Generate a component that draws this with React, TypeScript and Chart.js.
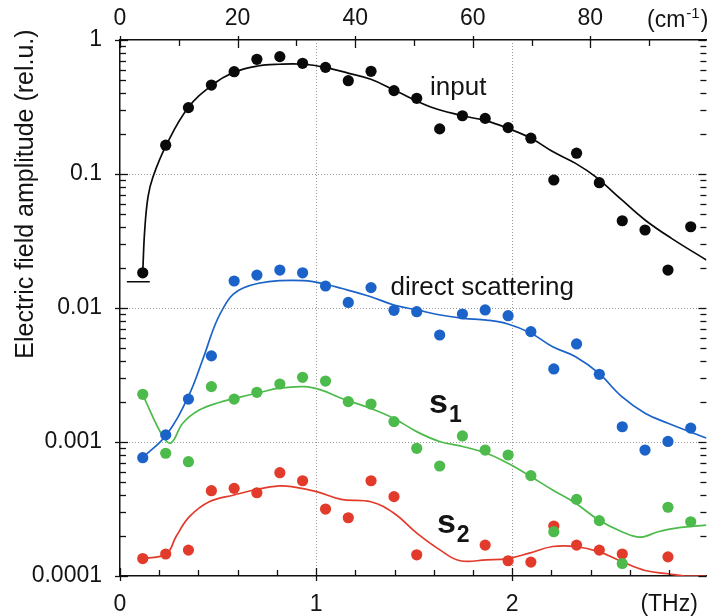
import React, { useEffect, useRef } from "react";
import { Chart, registerables } from "chart.js";

Chart.register(...registerables);

// ---------------- data ----------------
const THZ_TO_CM = 33.356;
const X_MAX = 2.99;

const freqTHz = [0.116, 0.233, 0.349, 0.466, 0.582, 0.698, 0.815, 0.931, 1.048, 1.164, 1.28, 1.397, 1.513, 1.63, 1.746, 1.862, 1.979, 2.095, 2.212, 2.328, 2.444, 2.561, 2.677, 2.794, 2.91];

const inputAmp = [0.0183, 0.164, 0.313, 0.461, 0.58, 0.718, 0.751, 0.67, 0.625, 0.497, 0.584, 0.419, 0.367, 0.217, 0.272, 0.26, 0.222, 0.185, 0.0902, 0.143, 0.0861, 0.0448, 0.0382, 0.0192, 0.0404];
const directAmp = [0.000764, 0.00113, 0.00209, 0.00439, 0.0159, 0.0176, 0.0192, 0.0183, 0.0146, 0.011, 0.0142, 0.00961, 0.00938, 0.00629, 0.00902, 0.00967, 0.00876, 0.00666, 0.00351, 0.00539, 0.0032, 0.0013, 0.000871, 0.00101, 0.00127];
const s1Amp = [0.00227, 0.000824, 0.000713, 0.00259, 0.00209, 0.00235, 0.00271, 0.00304, 0.00285, 0.002, 0.00192, 0.00142, 0.000897, 0.000662, 0.00111, 0.000871, 0.0008, 0.000561, 0.000214, 0.000373, 0.000259, 0.000124, null, 0.000326, 0.000254];
const s2Amp = [0.000135, 0.000146, 0.000156, 0.000433, 0.000451, 0.000418, 0.00059, 0.000514, 0.000316, 0.000272, 0.000514, 0.000391, 0.000144, null, null, 0.00017, 0.00013, 0.000127, 0.000236, 0.00017, 0.000156, 0.000146, null, 0.000139, null];

const inputFitX = [0.116, 0.126, 0.143, 0.168, 0.236, 0.348, 0.47, 0.581, 0.702, 0.813, 0.938, 1.045, 1.167, 1.279, 1.397, 1.581, 1.746, 1.864, 1.978, 2.096, 2.206, 2.323, 2.424, 2.559, 2.677, 2.812, 2.99];
const inputFitY = [0.0186, 0.038, 0.0677, 0.095, 0.164, 0.313, 0.461, 0.574, 0.64, 0.659, 0.659, 0.625, 0.564, 0.509, 0.424, 0.318, 0.272, 0.25, 0.219, 0.185, 0.147, 0.12, 0.0955, 0.064, 0.0454, 0.0331, 0.0228];

const directFitX = [0.115, 0.236, 0.348, 0.421, 0.488, 0.545, 0.578, 0.628, 0.707, 0.813, 0.938, 1.027, 1.128, 1.279, 1.397, 1.515, 1.633, 1.751, 1.869, 1.978, 2.096, 2.206, 2.323, 2.441, 2.559, 2.677, 2.794, 2.99];
const directFitY = [0.000764, 0.00113, 0.00218, 0.00409, 0.00769, 0.0111, 0.0127, 0.0141, 0.01529, 0.016, 0.016, 0.01529, 0.01403, 0.01214, 0.01052, 0.00967, 0.00887, 0.00838, 0.00813, 0.0076, 0.00648, 0.00514, 0.00433, 0.00326, 0.00218, 0.00164, 0.00138, 0.00107];

const s1FitX = [0.115, 0.219, 0.261, 0.32, 0.404, 0.505, 0.623, 0.707, 0.813, 0.938, 1.027, 1.128, 1.279, 1.397, 1.515, 1.633, 1.751, 1.869, 1.978, 2.096, 2.206, 2.323, 2.441, 2.559, 2.652, 2.744, 2.828, 2.99];
const s1FitY = [0.00227, 0.001096, 0.000988, 0.00138, 0.00173, 0.00197, 0.00218, 0.00233, 0.00252, 0.00259, 0.00244, 0.00212, 0.00178, 0.0015, 0.00119, 0.001005, 0.000922, 0.000824, 0.000693, 0.000551, 0.000438, 0.000349, 0.000262, 0.000214, 0.000195, 0.000214, 0.000227, 0.00024];

const s2FitX = [0.115, 0.236, 0.286, 0.354, 0.455, 0.581, 0.702, 0.813, 0.875, 1.002, 1.128, 1.279, 1.397, 1.515, 1.633, 1.734, 1.869, 1.978, 2.087, 2.206, 2.323, 2.441, 2.559, 2.677, 2.794, 2.879, 2.99];
const s2FitY = [0.000135, 0.000146, 0.000197, 0.000277, 0.000358, 0.000402, 0.000444, 0.00047, 0.000464, 0.000426, 0.000373, 0.000358, 0.000294, 0.000208, 0.000156, 0.00013, 0.000132, 0.000135, 0.000148, 0.000166, 0.000166, 0.000152, 0.000128, 0.00011, 0.000104, 0.0001, 0.0001];

const floorX = [0.035, 0.152];
const floorY = [0.0157, 0.0157];

const yDecades = [1, 0.1, 0.01, 0.001, 0.0001];
const yDecadeLabels = ["1", "0.1", "0.01", "0.001", "0.0001"];
const xMajorValues = [0, 1, 2];
const xMajorLabels = ["0", "1", "2"];
const xUnitAt = 2.8;
const xUnitLabel = "(THz)";
const cmMajorValues = [0, 20, 40, 60, 80];
const cmMajorLabels = ["0", "20", "40", "60", "80"];

const annotTexts = ["input", "direct scattering"];
const annotX = [1.581, 1.379];
const annotY = [0.389, 0.0125];
const subNames = ["s", "s"];
const subIndex = ["1", "2"];
const subX = [1.576, 1.616];
const subY = [0.00164, 0.000209];

const yTitle = "Electric field amplitude (rel.u.)";

// ---------------- style ----------------
const FONT = "'Liberation Sans', Arial, Helvetica, sans-serif";
const TEXT = "#141414";
const AXIS = "#111111";
const BLACK = "#0a0a0a";
const BLUE = "#1c63c9";
const GREEN = "#4dbb4b";
const RED = "#e23b2c";

const near = (a: number, b: number) => Math.abs(a - b) < 1e-6;
const isDecade = (v: number) => {
  const l = Math.log10(v);
  return Math.abs(l - Math.round(l)) < 1e-6;
};

const yTickValues: number[] = [];
for (let e = -4; e < 0; e++) {
  for (let m = 1; m <= 9; m++) yTickValues.push(parseFloat((m * Math.pow(10, e)).toPrecision(6)));
}
yTickValues.push(1);

const toXY = (xs: number[], ys: (number | null)[]) =>
  xs.map((x, i) => ({ x, y: ys[i] })).filter((p) => p.y !== null && p.y !== undefined);

const decorPlugin = {
  id: "decor",
  beforeDatasetsDraw(chart: any) {
    const { ctx, chartArea: ca, scales } = chart;
    ctx.save();
    ctx.strokeStyle = "#9a9a9a";
    ctx.lineWidth = 1;
    ctx.setLineDash([1, 2]);
    [0.1, 0.01, 0.001].forEach((v) => {
      const py = Math.round(scales.y.getPixelForValue(v)) + 0.5;
      ctx.beginPath();
      ctx.moveTo(ca.left, py);
      ctx.lineTo(ca.right, py);
      ctx.stroke();
    });
    [1, 2].forEach((v) => {
      const px = Math.round(scales.x.getPixelForValue(v)) + 0.5;
      ctx.beginPath();
      ctx.moveTo(px, ca.top);
      ctx.lineTo(px, ca.bottom);
      ctx.stroke();
    });
    ctx.restore();
  },
  afterDraw(chart: any) {
    const { ctx, chartArea: ca, scales } = chart;
    const { x, x2, y } = scales;
    ctx.save();
    ctx.strokeStyle = AXIS;
    ctx.lineWidth = 1.3;
    const seg = (x1: number, y1: number, x2_: number, y2: number) => {
      ctx.beginPath();
      ctx.moveTo(x1, y1);
      ctx.lineTo(x2_, y2);
      ctx.stroke();
    };
    y.ticks.forEach((t: any) => {
      const py = Math.round(y.getPixelForValue(t.value)) + 0.5;
      const major = isDecade(t.value);
      seg(ca.left - (major ? 5 : 0), py, ca.left + (major ? 8 : 6), py);
      seg(ca.right - (major ? 8 : 6), py, ca.right, py);
    });
    x.ticks.forEach((t: any) => {
      const px = Math.round(x.getPixelForValue(t.value)) + 0.5;
      const major = near(t.value, Math.round(t.value));
      seg(px, ca.bottom - (major ? 8 : 6), px, ca.bottom + (major ? 5 : 0));
    });
    x2.ticks.forEach((t: any) => {
      const px = Math.round(x2.getPixelForValue(t.value)) + 0.5;
      const major = near(t.value % 20, 0);
      seg(px, ca.top - (major ? 4 : 0), px, ca.top + (major ? 8 : 6));
    });

    ctx.fillStyle = TEXT;
    // y title
    ctx.save();
    ctx.font = `25px ${FONT}`;
    ctx.translate(33, 194);
    ctx.rotate(-Math.PI / 2);
    ctx.textAlign = "center";
    ctx.textBaseline = "alphabetic";
    ctx.fillText(yTitle, 0, 0);
    ctx.restore();

    // top unit label (cm^-1)
    ctx.textAlign = "left";
    ctx.textBaseline = "alphabetic";
    ctx.font = `23px ${FONT}`;
    let ux = 647;
    ctx.fillText("(cm", ux, 27);
    ux += ctx.measureText("(cm").width + 1;
    ctx.font = `15px ${FONT}`;
    ctx.fillText("-1", ux, 18);
    ux += ctx.measureText("-1").width + 1;
    ctx.font = `23px ${FONT}`;
    ctx.fillText(")", ux, 27);

    // annotations
    ctx.font = `26px ${FONT}`;
    annotTexts.forEach((s, i) => {
      ctx.fillText(s, x.getPixelForValue(annotX[i]), y.getPixelForValue(annotY[i]));
    });
    subNames.forEach((s, i) => {
      const px = x.getPixelForValue(subX[i]);
      const py = y.getPixelForValue(subY[i]);
      ctx.font = `bold 34px ${FONT}`;
      ctx.fillText(s, px, py);
      const w = ctx.measureText(s).width;
      ctx.font = `bold 23px ${FONT}`;
      ctx.fillText(subIndex[i], px + w + 1, py + 9);
    });
    ctx.restore();
  },
};

export default function App() {
  const ref = useRef<HTMLCanvasElement | null>(null);

  useEffect(() => {
    if (!ref.current) return;
    const pointDs = (label: string, ys: (number | null)[], color: string) => ({
      label,
      data: toXY(freqTHz, ys),
      showLine: false,
      pointRadius: 5.6,
      pointBackgroundColor: color,
      pointBorderColor: color,
      pointBorderWidth: 0,
      borderColor: color,
      backgroundColor: color,
    });
    const lineDs = (label: string, xs: number[], ys: number[], color: string, w = 1.7) => ({
      label,
      data: toXY(xs, ys),
      showLine: true,
      pointRadius: 0,
      borderColor: color,
      borderWidth: w,
      backgroundColor: color,
      tension: 0.4,
      fill: false,
    });

    const chart = new Chart(ref.current, {
      type: "scatter",
      data: {
        datasets: [
          pointDs("input", inputAmp, BLACK),
          pointDs("direct scattering", directAmp, BLUE),
          pointDs("s1", s1Amp, GREEN),
          pointDs("s2", s2Amp, RED),
          lineDs("input fit", inputFitX, inputFitY, BLACK),
          lineDs("direct fit", directFitX, directFitY, BLUE),
          lineDs("s1 fit", s1FitX, s1FitY, GREEN),
          lineDs("s2 fit", s2FitX, s2FitY, RED),
          lineDs("floor", floorX, floorY, BLACK, 1.3),
        ] as any,
      },
      options: {
        animation: false,
        responsive: false,
        devicePixelRatio: 1,
        events: [],
        layout: { padding: 0 },
        plugins: { legend: { display: false }, tooltip: { enabled: false } },
        scales: {
          x: {
            type: "linear",
            position: "bottom",
            min: 0,
            max: X_MAX,
            afterFit: (s: any) => {
              s.height = 40;
              s.paddingLeft = 0;
              s.paddingRight = 0;
            },
            grid: { display: true, color: "transparent", drawTicks: false },
            border: { display: true, color: AXIS, width: 1.5 },
            ticks: {
              stepSize: 0.2,
              includeBounds: false,
              autoSkip: false,
              maxRotation: 0,
              minRotation: 0,
              padding: 15,
              color: TEXT,
              font: { family: FONT, size: 23 },
              callback: (v: any) => {
                const n = Number(v);
                if (near(n, xUnitAt)) return xUnitLabel;
                const i = xMajorValues.findIndex((m) => near(m, n));
                return i >= 0 ? xMajorLabels[i] : "";
              },
            },
          },
          x2: {
            type: "linear",
            position: "top",
            min: 0,
            max: X_MAX * THZ_TO_CM,
            afterFit: (s: any) => {
              s.height = 40;
              s.paddingLeft = 0;
              s.paddingRight = 0;
            },
            grid: { display: true, color: "transparent", drawTicks: false },
            border: { display: true, color: AXIS, width: 1.5 },
            ticks: {
              stepSize: 10,
              includeBounds: false,
              autoSkip: false,
              maxRotation: 0,
              minRotation: 0,
              padding: 8,
              color: TEXT,
              font: { family: FONT, size: 23 },
              callback: (v: any) => {
                const i = cmMajorValues.findIndex((m) => near(m, Number(v)));
                return i >= 0 ? cmMajorLabels[i] : "";
              },
            },
          },
          y: {
            type: "logarithmic",
            position: "left",
            min: 0.0001,
            max: 1,
            afterBuildTicks: (s: any) => {
              s.ticks = yTickValues.map((v) => ({ value: v, major: isDecade(v) }));
            },
            afterFit: (s: any) => {
              s.width = 120;
              s.paddingTop = 0;
              s.paddingBottom = 0;
            },
            grid: { display: true, color: "transparent", drawTicks: false },
            border: { display: true, color: AXIS, width: 1.5 },
            ticks: {
              autoSkip: false,
              padding: 18,
              color: TEXT,
              font: { family: FONT, size: 23 },
              callback: (v: any) => {
                const n = Number(v);
                const i = yDecades.findIndex((d) => Math.abs(d - n) / d < 1e-6);
                return i >= 0 ? yDecadeLabels[i] : "";
              },
            },
          },
        } as any,
      },
      plugins: [decorPlugin as any],
    });
    return () => chart.destroy();
  }, []);

  return (
    <div style={{ position: "fixed", left: 0, top: 0, width: 712, height: 616, background: "#ffffff" }}>
      <canvas ref={ref} width={712} height={616} style={{ display: "block", width: 712, height: 616 }} />
    </div>
  );
}
